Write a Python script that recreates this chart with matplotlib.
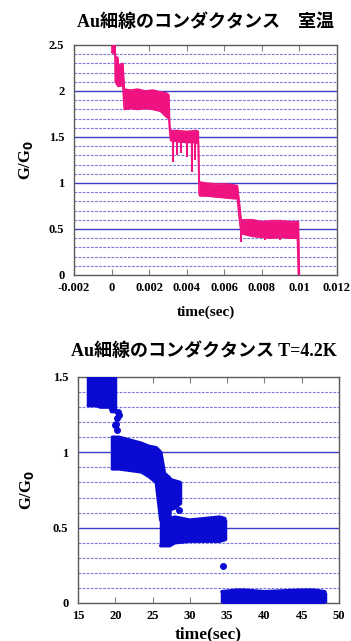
import matplotlib
matplotlib.use("Agg")
import matplotlib.pyplot as plt
import numpy as np

# ---------------- data: room temperature (top) ----------------
rt_t  = [0.0000, 0.00018, 0.00020, 0.00034, 0.00036, 0.00060, 0.00066, 0.00068, 0.0010, 0.0014,
         0.0018, 0.0022, 0.0026, 0.0029, 0.00305, 0.00310, 0.00315, 0.0035, 0.0040, 0.0045,
         0.00462, 0.00466, 0.00470, 0.0050, 0.0055, 0.0060, 0.0065, 0.00670, 0.00680, 0.00690,
         0.0075, 0.0080, 0.0085, 0.0090, 0.0095, 0.00990, 0.00995, 0.01000]
rt_hi = [2.55, 2.55, 2.38, 2.36, 2.28, 2.30, 2.10, 2.02, 2.01, 2.02,
         2.00, 2.01, 1.99, 1.98, 1.96, 1.62, 1.57, 1.57, 1.56, 1.57,
         1.56, 1.03, 1.01, 1.00, 0.99, 0.99, 0.98, 0.97, 0.80, 0.60,
         0.60, 0.58, 0.59, 0.59, 0.58, 0.58, 0.58, 0.02]
rt_lo = [2.42, 2.40, 2.10, 2.05, 2.05, 2.06, 1.85, 1.80, 1.81, 1.80,
         1.81, 1.80, 1.78, 1.72, 1.70, 1.55, 1.46, 1.45, 1.44, 1.44,
         1.42, 0.88, 0.86, 0.86, 0.85, 0.84, 0.83, 0.83, 0.62, 0.45,
         0.42, 0.41, 0.40, 0.41, 0.40, 0.40, 0.00, 0.00]
rt_spike_t  = [0.00327, 0.00348, 0.0037, 0.0040, 0.00428, 0.00444, 0.0069, 0.00817, 0.00897]
rt_spike_lo = [1.23, 1.30, 1.33, 1.28, 1.12, 1.25, 0.36, 0.38, 0.38]
rt_spike_hi = [1.50, 1.50, 1.50, 1.50, 1.50, 1.50, 0.50, 0.50, 0.50]

# ---------------- data: T = 4.2 K (bottom) ----------------
a_t  = [16.4, 17.5, 18.0, 19.3, 19.5, 20.0]
a_hi = [1.55, 1.55, 1.55, 1.55, 1.55, 1.55]
a_lo = [1.31, 1.31, 1.30, 1.30, 1.27, 1.27]

b_t  = [19.6, 20.5, 22.0, 23.5, 24.5, 25.5, 26.1, 26.6, 27.3, 27.35, 28.0, 28.7]
b_hi = [1.10, 1.10, 1.08, 1.06, 1.04, 1.03, 1.00, 0.86, 0.83, 0.82, 0.81, 0.80]
b_lo = [0.89, 0.89, 0.88, 0.87, 0.84, 0.80, 0.55, 0.55, 0.55, 0.62, 0.63, 0.66]

c_t  = [26.1, 27.3, 28.0, 30.0, 32.0, 34.0, 34.7]
c_hi = [0.57, 0.56, 0.57, 0.55, 0.56, 0.57, 0.56]
c_lo = [0.38, 0.38, 0.40, 0.41, 0.41, 0.41, 0.42]

d_t  = [34.3, 36.3, 37.3, 40.0, 44.8, 46.6, 48.1]
d_hi = [0.075, 0.085, 0.085, 0.075, 0.085, 0.085, 0.075]
d_lo = [-0.02, -0.02, -0.02, -0.02, -0.02, -0.02, -0.02]

pt_t = [19.9, 20.1, 20.2, 20.27, 20.4, 20.5, 28.5, 34.4]
pt_g = [1.18, 1.19, 1.15, 1.23, 1.27, 1.25, 0.62, 0.245]

xt_top = [-0.002, 0, 0.002, 0.004, 0.006, 0.008, 0.01, 0.012]
xl_top = ["-0.002", "0", "0.002", "0.004", "0.006", "0.008", "0.01", "0.012"]
yt_top = [0, 0.5, 1, 1.5, 2, 2.5]
yl_top = ["0", "0.5", "1", "1.5", "2", "2.5"]
xt_bot = [15, 20, 25, 30, 35, 40, 45, 50]
yt_bot = [0, 0.5, 1, 1.5]
yl_bot = ["0", "0.5", "1", "1.5"]

PINK = "#ef1281"
BLUE = "#0a0ad2"
SERIF = ["Liberation Serif", "DejaVu Serif"]
TITLEF = ["Liberation Serif", "Noto Sans CJK JP", "DejaVu Sans"]

fig = plt.figure(figsize=(3.51, 6.41), dpi=100)
ax1 = fig.add_axes([0.2108, 0.5710, 0.749, 0.3588])
ax2 = fig.add_axes([0.2222, 0.0593, 0.7436, 0.3526])


def style(ax, ymax, minor_step):
    for v in np.arange(minor_step, ymax, minor_step):
        if abs(v / 0.5 - round(v / 0.5)) < 1e-6:
            continue
        ax.axhline(v, color="#7a7ae0", lw=0.8, ls=(0, (2.5, 1.2)), zorder=1)
    for v in np.arange(0.5, ymax, 0.5):
        ax.axhline(v, color="#3c3cc4", lw=1.0, zorder=1)
    for s in ax.spines.values():
        s.set_color("#5a5a5a")
        s.set_linewidth(1.0)
    ax.tick_params(axis="x", direction="in", length=4, color="#808080", top=True,
                   pad=5, labelsize=9)
    ax.tick_params(axis="y", length=0, pad=7, labelsize=9)
    for lab in ax.get_xticklabels() + ax.get_yticklabels():
        lab.set_fontfamily(SERIF)
        lab.set_fontweight("bold")


def band(ax, tt, lo, hi, color, ew):
    ax.fill_between(tt, lo, hi, color=color, lw=0, zorder=3)
    ax.plot(tt, hi, color=color, lw=ew, solid_joinstyle="round", solid_capstyle="round", zorder=3)
    ax.plot(tt, lo, color=color, lw=ew, solid_joinstyle="round", solid_capstyle="round", zorder=3)
    ax.vlines([tt[0], tt[-1]], [lo[0], lo[-1]], [hi[0], hi[-1]], color=color, lw=ew, zorder=3)


# ---- top ----
ax1.set_xlim(-0.002, 0.012)
ax1.set_ylim(0, 2.5)
ax1.set_xticks(xt_top, xl_top)
ax1.set_yticks(yt_top, yl_top)
style(ax1, 2.5, 0.1)
band(ax1, rt_t, rt_lo, rt_hi, PINK, 1.2)
ax1.vlines(rt_spike_t, rt_spike_lo, rt_spike_hi, color=PINK, lw=1.5, zorder=3)
ax1.set_xlabel("time(sec)", family=SERIF, weight="bold", fontsize=11, labelpad=8)
ax1.set_ylabel("G/G$_\\mathbf{0}$", family=SERIF, weight="bold", fontsize=12, labelpad=10)

# ---- bottom ----
ax2.set_xlim(15, 50)
ax2.set_ylim(0, 1.5)
ax2.set_xticks(xt_bot, [str(v) for v in xt_bot])
ax2.set_yticks(yt_bot, yl_bot)
style(ax2, 1.5, 0.1)
for tt, lo, hi in [(a_t, a_lo, a_hi), (b_t, b_lo, b_hi), (c_t, c_lo, c_hi), (d_t, d_lo, d_hi)]:
    band(ax2, tt, lo, hi, BLUE, 2.5)
ax2.plot(pt_t, pt_g, "o", color=BLUE, ms=4, zorder=3)
ax2.set_xlabel("time(sec)", family=SERIF, weight="bold", fontsize=12.5, labelpad=3)
ax2.set_ylabel("G/G$_\\mathbf{0}$", family=SERIF, weight="bold", fontsize=12, labelpad=12)

# ---- titles ----
fig.text(0.585, 0.9657, "Au細線のコンダクタンス\u3000室温", family=TITLEF, weight="bold",
         fontsize=13, ha="center", va="center")
fig.text(0.58, 0.4524, "Au細線のコンダクタンス T=4.2K", family=TITLEF, weight="bold",
         fontsize=13, ha="center", va="center")

fig.savefig("out.png", dpi=100)
